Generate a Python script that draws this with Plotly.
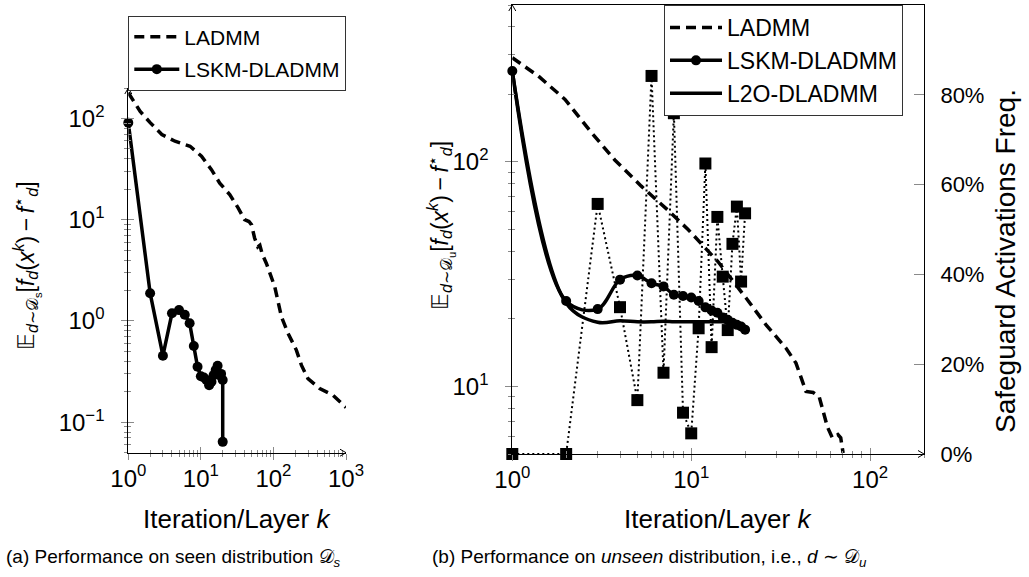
import math
import plotly.graph_objects as go

W, H = 1029, 577
FONT = "Liberation Sans, Arial, sans-serif"

# ---------------- data ----------------
# (a) seen distribution
a_ladmm_k = [1, 1.45, 2.0, 2.9, 4.4, 7.1, 10.2, 14, 18.2, 25, 32.6, 40, 46, 50, 55, 61, 65, 70, 80,
             94, 104, 129, 159, 207, 243, 299, 434, 661, 1000]
a_ladmm_val = [180, 118, 91, 69.5, 59.6, 53.2, 42.4, 31.2, 23, 17.7, 13.1, 10, 9.6, 8.9, 6.6, 5.4, 5.6, 4.6, 3.7,
               2.75, 2.19, 1.10, 0.755, 0.516, 0.366, 0.27, 0.215, 0.185, 0.14]
a_lskm_k = [1, 2, 3, 4, 5, 6, 7, 8, 9, 10, 11, 12, 13, 14, 15, 16, 17, 18, 19, 20, 20]
a_lskm_val = [90.6, 1.88, 0.454, 1.19, 1.28, 1.15, 0.95, 0.565, 0.353, 0.285, 0.277, 0.26, 0.232, 0.251,
              0.292, 0.327, 0.361, 0.292, 0.30, 0.261, 0.064]

# (b) unseen distribution
b_ladmm_k = [1, 1.4, 1.97, 2.77, 3.74, 5.26, 7.4, 9.6, 12.1, 14.1, 20.3, 26.2, 33.9, 38.5, 43.8, 48, 51.9,
             55, 57.7, 61.5, 66, 68.5, 70.6]
b_ladmm_val = [291, 241, 190, 135, 102, 78, 61, 50, 41, 36, 24.7, 18.8, 14.8, 12.7, 9.5, 9.4, 9.0,
               7.7, 6.6, 5.9, 6.1, 5.9, 5.05]
b_k = list(range(1, 21))
b_lskm_val = [254, 24.0, 22.1, 29.9, 31.2, 28.8, 27.9, 25.6, 25.3, 24.9, 24.0, 22.5, 21.8, 21.3, 20.3,
              19.8, 19.2, 18.8, 18.5, 17.9]
b_l2o_val = [254, 23.5, 19.3, 19.6, 19.4, 19.4, 19.5, 19.4, 19.4, 19.4, 19.4, 19.4, 19.4, 19.4, 19.4,
             19.3, 19.1, 18.9, 18.6, 18.2]
b_safeguard = [0.0, 0.0, 0.557, 0.327, 0.12, 0.842, 0.181, 0.759, 0.092, 0.046, 0.28, 0.647, 0.238,
               0.528, 0.395, 0.276, 0.468, 0.551, 0.384, 0.536]

# tick labels
a_xticks = [1, 10, 100, 1000]
a_xtext = ["10<sup>0</sup>", "10<sup>1</sup>", "10<sup>2</sup>", "10<sup>3</sup>"]
a_yticks = [0.1, 1, 10, 100]
a_ytext = ["10<sup>−1</sup>", "10<sup>0</sup>", "10<sup>1</sup>", "10<sup>2</sup>"]
b_xticks = [1, 10, 100]
b_xtext = ["10<sup>0</sup>", "10<sup>1</sup>", "10<sup>2</sup>"]
b_yticks = [10, 100]
b_ytext = ["10<sup>1</sup>", "10<sup>2</sup>"]
pct_vals = [0, 0.2, 0.4, 0.6, 0.8]
pct_text = ["0%", "20%", "40%", "60%", "80%"]


def minor_vals(lo, hi):
    out = []
    for e in range(int(math.floor(math.log10(lo))) - 1, int(math.ceil(math.log10(hi))) + 1):
        for m in range(2, 10):
            v = m * 10 ** e
            if lo <= v <= hi:
                out.append(v)
    return out


def fx(p):
    return p / W


def fy(p):
    return 1 - p / H


TICKC = "#8a8a8a"
DASH = "10px,6px"

fig = go.Figure()

# ---- panel (a)
fig.add_trace(go.Scatter(x=a_ladmm_k, y=a_ladmm_val, mode="lines", name="LADMM",
                         line=dict(color="black", width=3.5, dash=DASH), legendgroup="a1",
                         xaxis="x", yaxis="y", legend="legend", cliponaxis=False))
fig.add_trace(go.Scatter(x=a_lskm_k, y=a_lskm_val, mode="lines+markers", name="LSKM-DLADMM",
                         line=dict(color="black", width=3.5), legendgroup="a2",
                         marker=dict(color="black", size=10, symbol="circle"),
                         xaxis="x", yaxis="y", legend="legend", cliponaxis=False))
fig.add_trace(go.Scatter(x=[], y=[], xaxis="x3", yaxis="y3", showlegend=False, hoverinfo="skip"))

# ---- panel (b)
fig.add_trace(go.Scatter(x=b_ladmm_k, y=b_ladmm_val, mode="lines", name="LADMM",
                         line=dict(color="black", width=3.5, dash=DASH), legendgroup="b1",
                         xaxis="x2", yaxis="y2", legend="legend2", cliponaxis=False))
fig.add_trace(go.Scatter(x=b_k, y=b_lskm_val, mode="lines+markers", name="LSKM-DLADMM",
                         line=dict(color="black", width=3.5, shape="spline", smoothing=1.0),
                         marker=dict(color="black", size=10, symbol="circle"), legendgroup="b2",
                         xaxis="x2", yaxis="y2", legend="legend2", cliponaxis=False))
fig.add_trace(go.Scatter(x=b_k, y=b_l2o_val, mode="lines", name="L2O-DLADMM",
                         line=dict(color="black", width=3.5, shape="spline", smoothing=1.0),
                         legendgroup="b3",
                         xaxis="x2", yaxis="y2", legend="legend2", cliponaxis=False))
fig.add_trace(go.Scatter(x=b_k, y=b_safeguard, mode="lines+markers", name="Safeguard",
                         line=dict(color="black", width=2, dash="2px,3px"),
                         marker=dict(color="black", size=12, symbol="square"),
                         xaxis="x2", yaxis="y5", showlegend=False, cliponaxis=False))
fig.add_trace(go.Scatter(x=[], y=[], xaxis="x4", yaxis="y4", showlegend=False, hoverinfo="skip"))

tickfont = dict(family=FONT, size=24, color="black")
base = dict(showgrid=False, zeroline=False, ticks="outside", ticklen=6, tickcolor=TICKC, tickwidth=1,
            showline=True, linecolor="black", linewidth=1, tickfont=tickfont, tickmode="array",
            automargin=False)
twin = dict(showgrid=False, zeroline=False, ticks="inside", ticklen=6, tickcolor=TICKC, tickwidth=1,
            showline=False, showticklabels=False, tickmode="array", automargin=False)

xa_dom = [fx(128.3), fx(346.0)]
ya_dom = [fy(452.7), fy(88.0)]
xb_dom = [fx(512.3), fx(924.0)]
yb_dom = [fy(454.0), fy(5.0)]
ya_rng = [math.log10(0.05), math.log10(200)]
yb_rng = [math.log10(5), math.log10(500)]
xb_rng = [0, math.log10(200)]

mo = lambda lo, hi: dict(tickmode="array", tickvals=minor_vals(lo, hi), ticks="outside", ticklen=3,
                         tickcolor=TICKC)
mi = lambda lo, hi: dict(tickmode="array", tickvals=minor_vals(lo, hi), ticks="inside", ticklen=3,
                         tickcolor=TICKC)

fig.update_layout(
    width=W, height=H, margin=dict(l=0, r=0, t=0, b=0, pad=0, autoexpand=False),
    paper_bgcolor="white", plot_bgcolor="white",
    font=dict(family=FONT, color="black"),
    xaxis=dict(base, type="log", domain=xa_dom, range=[0, 3], anchor="y",
               tickvals=a_xticks, ticktext=a_xtext, ticklabelstandoff=-2, minor=mo(1, 1000)),
    yaxis=dict(base, type="log", domain=ya_dom, range=ya_rng, anchor="x",
               tickvals=a_yticks, ticktext=a_ytext, ticklabelstandoff=12, minor=mo(0.05, 200)),
    xaxis3=dict(twin, type="log", range=[0, 3], overlaying="x", anchor="y3",
                tickvals=a_xticks, minor=mi(1, 1000)),
    yaxis3=dict(twin, type="log", range=ya_rng, overlaying="y", anchor="x3",
                tickvals=a_yticks, minor=mi(0.05, 200)),
    xaxis2=dict(base, type="log", domain=xb_dom, range=xb_rng, anchor="y2", mirror=True,
                tickvals=b_xticks, ticktext=b_xtext, ticklabelstandoff=-2, minor=mo(1, 200)),
    yaxis2=dict(base, type="log", domain=yb_dom, range=yb_rng, anchor="x2",
                tickvals=b_yticks, ticktext=b_ytext, ticklabelstandoff=12, minor=mo(5, 500)),
    xaxis4=dict(twin, type="log", range=xb_rng, overlaying="x2", anchor="y4",
                tickvals=b_xticks, minor=mi(1, 200)),
    yaxis4=dict(twin, type="log", range=yb_rng, overlaying="y2", anchor="x4",
                tickvals=b_yticks, minor=mi(5, 500)),
    yaxis5=dict(showgrid=False, zeroline=False, ticks="inside", ticklen=10, tickcolor=TICKC,
                showline=True, linecolor="black", linewidth=1,
                tickfont=dict(family=FONT, size=22, color="black"), automargin=False,
                overlaying="y2", side="right", anchor="x2", range=[0, 1],
                tickmode="array", tickvals=pct_vals, ticktext=pct_text, ticklabelstandoff=11),
    legend=dict(x=fx(128.3), y=fy(15.7), xanchor="left", yanchor="top", bgcolor="white",
                bordercolor="#333", borderwidth=1, font=dict(family=FONT, size=21, color="black"),
                itemwidth=45, traceorder="grouped", tracegroupgap=2),
    legend2=dict(x=fx(664), y=fy(5), xanchor="left", yanchor="top", bgcolor="white",
                 bordercolor="#333", borderwidth=1, font=dict(family=FONT, size=23, color="black"),
                 itemwidth=52, traceorder="grouped", tracegroupgap=0),
    showlegend=True,
)

lab = dict(family=FONT, size=26, color="black")
ylab = dict(family=FONT, size=23, color="black")
ann = [
    dict(text="𝔼<sub><i>d</i>∼𝒟<sub>s</sub></sub>[<i>f<sub>d</sub></i>(<i>x<sup>k</sup></i>)\u2009−\u2009<i>f</i><sup>⋆</sup><sub><i>d</i></sub>]",
         x=fx(26), y=fy(266), textangle=-90, font=ylab),
    dict(text="𝔼<sub><i>d</i>∼𝒟<sub>u</sub></sub>[<i>f<sub>d</sub></i>(<i>x<sup>k</sup></i>)\u2009−\u2009<i>f</i><sup>⋆</sup><sub><i>d</i></sub>]",
         x=fx(440), y=fy(226), textangle=-90, font=ylab),
    dict(text="Safeguard Activations Freq.", x=fx(1005), y=fy(261), textangle=-90,
         font=dict(family=FONT, size=28, color="black")),
    dict(text="Iteration/Layer <i>k</i>", x=fx(237), y=fy(519)),
    dict(text="Iteration/Layer <i>k</i>", x=fx(718), y=fy(519)),
]
annotations = []
for a in ann:
    d = dict(xref="paper", yref="paper", showarrow=False, font=lab, xanchor="center", yanchor="middle")
    d.update(a)
    annotations.append(d)
cap = dict(family=FONT, size=19, color="black")
annotations.append(dict(text="(a) Performance on seen distribution 𝒟<sub><i>s</i></sub>", x=fx(4), y=fy(558),
                        xref="paper", yref="paper", showarrow=False, font=cap, xanchor="left", yanchor="middle"))
annotations.append(dict(text="(b) Performance on <i>unseen</i> distribution, i.e., <i>d</i> ∼ 𝒟<sub><i>u</i></sub>",
                        x=fx(430), y=fy(558), xref="paper", yref="paper", showarrow=False, font=cap,
                        xanchor="left", yanchor="middle"))
fig.update_layout(annotations=annotations)


def arrow(xref, yref, xa, ya, path):
    return dict(type="path", xref=xref, yref=yref, xsizemode="pixel", ysizemode="pixel",
                xanchor=xa, yanchor=ya, path=path, line=dict(color="black", width=1))


up = "M -3.5,-6 L 0,0 L 3.5,-6"
right = "M -6,3.5 L 0,0 L -6,-3.5"
fig.update_layout(shapes=[
    arrow("x domain", "y domain", 0, 1, up),
    arrow("x domain", "y domain", 1, 0, right),
    arrow("x2 domain", "y2 domain", 0, 1, up),
    arrow("x2 domain", "y2 domain", 1, 0, right),
])

fig.write_html("out.html", config={"displayModeBar": False},
               post_script="document.body.style.margin='0px';")
